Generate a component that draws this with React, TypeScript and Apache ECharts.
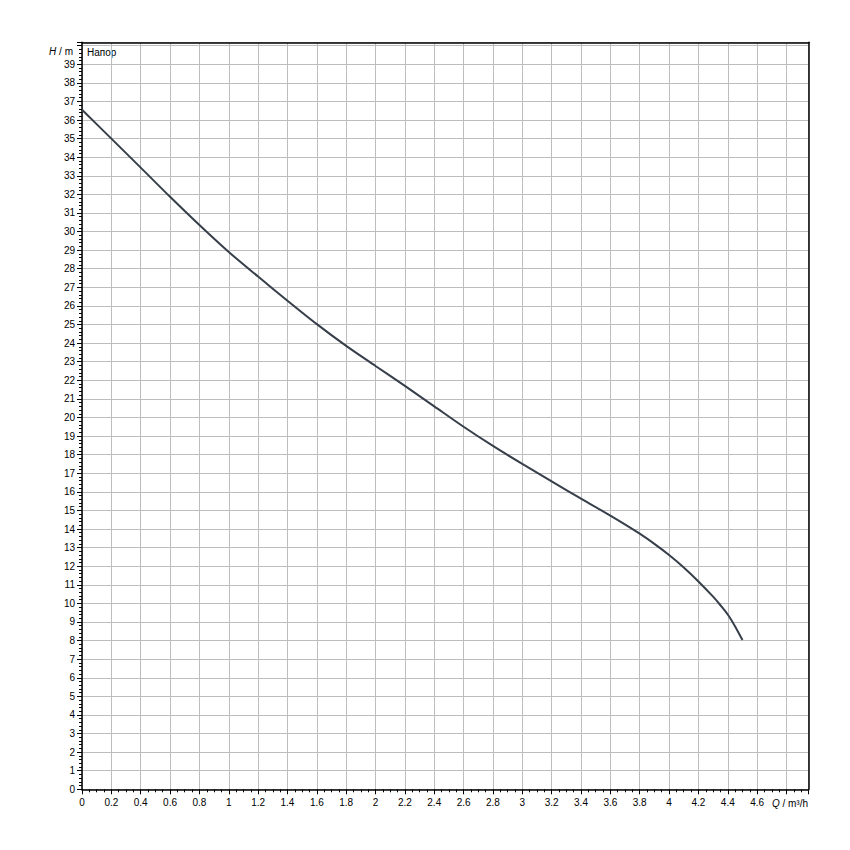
import React, { useEffect, useRef } from "react";
import * as echarts from "echarts";

const flowQ = [0, 0.2, 0.4, 0.6, 0.8, 1.0, 1.2, 1.4, 1.6, 1.8, 2.0, 2.2, 2.4, 2.6, 2.8, 3.0, 3.2, 3.4, 3.6, 3.8, 3.9, 4.0, 4.1, 4.2, 4.3, 4.35, 4.4, 4.45, 4.5];
const headH = [36.55, 35.0, 33.44, 31.87, 30.35, 28.9, 27.58, 26.28, 25.02, 23.85, 22.77, 21.7, 20.6, 19.5, 18.47, 17.5, 16.56, 15.63, 14.72, 13.75, 13.2, 12.6, 11.93, 11.18, 10.36, 9.9, 9.4, 8.76, 8.03];

const seriesName = "Напор";
const xAxisVar = "Q";
const xUnit = " / m³/h";
const yAxisVar = "H";
const yUnit = " / m";

const X_MIN = 0;
const X_MAX = 4.95;
const X_STEP = 0.2;
const Y_MIN = 0;
const Y_MAX = 40.18;
const Y_STEP = 1;

const FONT = "'Liberation Sans', Arial, sans-serif";

export default function App() {
  const ref = useRef<HTMLDivElement>(null);
  useEffect(() => {
    if (!ref.current) return;
    const chart = echarts.init(ref.current, null, { renderer: "svg" });
    const data = flowQ.map((q, i) => [q, headH[i]]);
    const round = (v: number) => Math.round(v * 1000) / 1000;
    const frameAxis = {
      type: "value",
      axisLine: { show: true, onZero: false, lineStyle: { color: "#000", width: 1.5 } },
      axisTick: { show: false },
      axisLabel: { show: false },
      splitLine: { show: false },
    };
    chart.setOption({
      animation: false,
      backgroundColor: "#ffffff",
      grid: {
        left: 82,
        right: 41.5,
        top: 42.3,
        bottom: 60.7,
      },
      xAxis: [
        {
          type: "value",
          min: X_MIN,
          max: X_MAX,
          interval: X_STEP,
          axisLine: { show: true, onZero: false, lineStyle: { color: "#000", width: 1.5 } },
          axisTick: { show: true, length: 5, lineStyle: { color: "#000", width: 1 } },
          minorTick: { show: true, splitNumber: 4, length: 3, lineStyle: { color: "#000", width: 1 } },
          splitLine: { show: true, lineStyle: { color: "#bdbdbd", width: 1 } },
          axisLabel: {
            color: "#000",
            fontSize: 10,
            fontFamily: FONT,
            margin: 8,
            showMaxLabel: false,
            formatter: (v: number) => {
              const r = round(v);
              if (r >= 4.79) return "";
              return String(r);
            },
          },
        },
        { ...frameAxis, position: "top", min: X_MIN, max: X_MAX },
      ],
      yAxis: [
        {
          type: "value",
          min: Y_MIN,
          max: Y_MAX,
          interval: Y_STEP,
          axisLine: { show: true, onZero: false, lineStyle: { color: "#000", width: 1.5 } },
          axisTick: { show: true, length: 5, lineStyle: { color: "#000", width: 1 } },
          minorTick: { show: true, splitNumber: 5, length: 3, lineStyle: { color: "#000", width: 1 } },
          splitLine: { show: true, lineStyle: { color: "#bdbdbd", width: 1 } },
          axisLabel: {
            color: "#000",
            fontSize: 10,
            fontFamily: FONT,
            margin: 7,
            showMaxLabel: false,
            formatter: (v: number) => {
              const r = Math.round(v);
              if (r >= 40) return "";
              return String(r);
            },
          },
        },
        { ...frameAxis, position: "right", min: Y_MIN, max: Y_MAX },
      ],
      graphic: [
        {
          type: "text",
          left: 87,
          top: 47,
          style: { text: seriesName, fontSize: 10, fontFamily: FONT, fill: "#000" },
        },
        {
          type: "text",
          x: 73,
          y: 51,
          style: {
            text: "{i|" + yAxisVar + "}{n|" + yUnit + "}",
            align: "right",
            verticalAlign: "middle",
            rich: {
              i: { fontSize: 10, fontStyle: "italic", fontFamily: FONT, fill: "#000" },
              n: { fontSize: 10, fontFamily: FONT, fill: "#000" },
            },
          },
        },
        {
          type: "text",
          x: 808,
          y: 803,
          style: {
            text: "{i|" + xAxisVar + "}{n|" + xUnit + "}",
            align: "right",
            verticalAlign: "middle",
            rich: {
              i: { fontSize: 10, fontStyle: "italic", fontFamily: FONT, fill: "#000" },
              n: { fontSize: 10, fontFamily: FONT, fill: "#000" },
            },
          },
        },
      ],
      series: [
        {
          name: seriesName,
          type: "line",
          data,
          smooth: 0.3,
          symbol: "none",
          lineStyle: { color: "#363f4a", width: 2 },
          z: 5,
        },
      ],
    });
    return () => chart.dispose();
  }, []);
  return <div ref={ref} style={{ width: 850, height: 850, position: "absolute", left: 0, top: 0 }} />;
}
